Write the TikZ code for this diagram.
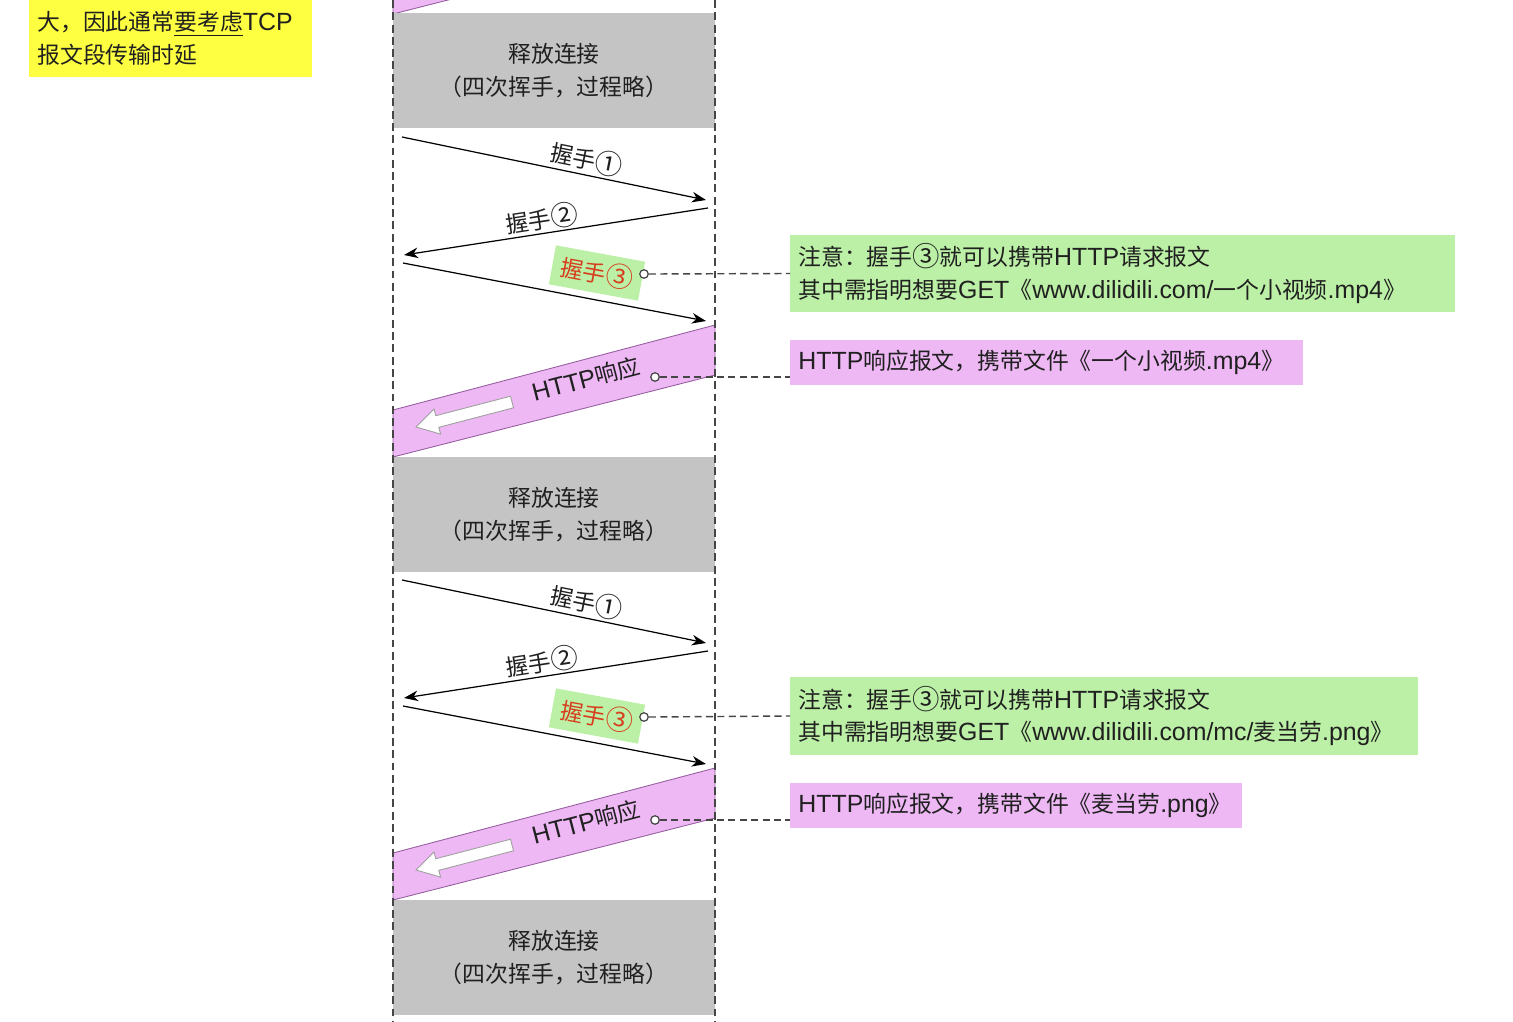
\documentclass[tikz,border=0pt]{standalone}
\usepackage{fontspec}
\setmainfont{Noto Sans CJK SC}
\newfontfamily\lat[Scale=1.09]{Liberation Sans}
\newfontfamily\fw[Scale=1.2]{Noto Sans CJK SC}
\usetikzlibrary{arrows.meta}
\definecolor{ybg}{RGB}{255,255,66}
\definecolor{gbg}{RGB}{196,196,196}
\definecolor{grn}{RGB}{188,240,166}
\definecolor{pnk}{RGB}{238,184,244}
\definecolor{pline}{RGB}{150,95,160}
\definecolor{txt}{RGB}{32,32,32}
\definecolor{rtxt}{RGB}{215,62,30}
\definecolor{dline}{RGB}{70,70,70}
\newcommand{\cnum}[1]{\raisebox{-0.8pt}{\fw #1}}
\begin{document}
\begin{tikzpicture}[x=0.02cm,y=-0.02cm,
  font=\fontsize{13pt}{18.5pt}\selectfont,
  relbox/.style={fill=gbg, minimum width=6.44cm, minimum height=2.3cm, inner sep=0, align=center, text=txt},
  harrow/.style={draw=black, line width=0.7pt, -{Stealth[length=8pt,width=6pt,inset=2.5pt]}},
  lbl/.style={text=txt, inner sep=1pt},
  hsthree/.style={fill=grn, text=rtxt, inner xsep=5pt, inner ysep=4pt},
  dot/.style={circle, draw=dline, line width=0.7pt, fill=white, inner sep=0, minimum size=0.17cm},
  notedash/.style={draw=dline, line width=0.8pt, dash pattern=on 4pt off 2.5pt},
  vdash/.style={draw=dline, line width=0.9pt, dash pattern=on 4.5pt off 2.5pt},
  band/.style={fill=pnk, draw=pline, line width=0.5pt},
  whitearrow/.style={fill=white, draw=gray!75, line width=0.5pt},
  gnote/.style={fill=grn, anchor=west, inner xsep=0.16cm, inner ysep=0, align=left, text=txt},
  pnote/.style={fill=pnk, anchor=west, inner xsep=0.16cm, inner ysep=0, align=left, text=txt}]
\useasboundingbox (0,0) rectangle (1513,1021);
\clip (0,0) rectangle (1513,1021);

% yellow note (cut at top)
\node[fill=ybg, minimum width=5.66cm, minimum height=2.4cm, anchor=south west, inner sep=0] (ybox) at (29,77) {};
\node[anchor=west, align=left, text=txt, inner sep=0] (ytext) at (37,38.5) {大，因此通常\underline{要考虑}{\lat TCP}\\报文段传输时延};

% band from previous section (cut at top)
\path[band] (393,-33) -- (715,-118) -- (715,-68) -- (393,14) -- cycle;

% release boxes
\node[relbox] (r1) at (554,70.5) {释放连接\\（四次挥手，过程略）};
\node[relbox] (r2) at (554,514.5) {释放连接\\（四次挥手，过程略）};
\node[relbox] (r3) at (554,957.5) {释放连接\\（四次挥手，过程略）};

\foreach \k/\o in {1/0,2/443}{
\begin{scope}[shift={(0,\o)}]
  \coordinate (hAs\k) at (402,137);
  \coordinate (hAe\k) at (706,200);
  \coordinate (hBs\k) at (708,208);
  \coordinate (hBe\k) at (404,255);
  \coordinate (hCs\k) at (403,263);
  \coordinate (hCe\k) at (706,321);
  \draw[harrow] (hAs\k) -- (hAe\k);
  \node[lbl, rotate=-11.3] (lA\k) at (587,159) {握手\cnum{①}};
  \draw[harrow] (hBs\k) -- (hBe\k);
  \node[lbl, rotate=8.8] (lB\k) at (542,219) {握手\cnum{②}};
  \draw[harrow] (hCs\k) -- (hCe\k);
  \node[hsthree, rotate=-10.4] (lC\k) at (597,273) {握手\cnum{③}};
  \node[dot] (dC\k) at (644,274) {};
  \path[band] (393,410) -- (715,325) -- (715,375) -- (393,457) -- cycle;
  \path[whitearrow] (510.5,396.2) -- (435.8,415.7) -- (434.0,408.9) -- (416,427)
     -- (440.6,434.1) -- (438.8,427.3) -- (513.5,407.8) -- cycle;
  \node[lbl, rotate=14.6] (lH\k) at (586,379) {{\lat HTTP}响应};
  \node[dot] (dH\k) at (655,377) {};
\end{scope}
}

% notes
\node[gnote, minimum width=13.3cm, minimum height=1.54cm, text width=12.98cm] (g1) at (790,273.5)
  {注意：握手\cnum{③}就可以携带{\lat HTTP}请求报文\\其中需指明想要{\lat GET}《{\lat www.dilidili.com/}一个小视频{\lat .mp4}》};
\node[pnote, minimum width=10.26cm, minimum height=0.9cm, text width=9.94cm] (p1) at (790,362.5)
  {{\lat HTTP}响应报文，携带文件《一个小视频{\lat .mp4}》};
\node[gnote, minimum width=12.56cm, minimum height=1.56cm, text width=12.24cm] (g2) at (790,716)
  {注意：握手\cnum{③}就可以携带{\lat HTTP}请求报文\\其中需指明想要{\lat GET}《{\lat www.dilidili.com/mc/}麦当劳{\lat .png}》};
\node[pnote, minimum width=9.04cm, minimum height=0.9cm, text width=8.72cm] (p2) at (790,805.5)
  {{\lat HTTP}响应报文，携带文件《麦当劳{\lat .png}》};

% note connectors
\draw[notedash] (dC1.east) -- (g1.west);
\draw[notedash] (dH1.east) -- (dH1.east -| p1.west);
\draw[notedash] (dC2.east) -- (g2.west);
\draw[notedash] (dH2.east) -- (dH2.east -| p2.west);

% life lines
\coordinate (lt) at (393,0);
\coordinate (lb) at (393,1021);
\coordinate (rt) at (715,0);
\coordinate (rb) at (715,1021);
\draw[vdash] (lt) -- (lb);
\draw[vdash] (rt) -- (rb);
\end{tikzpicture}
\end{document}
